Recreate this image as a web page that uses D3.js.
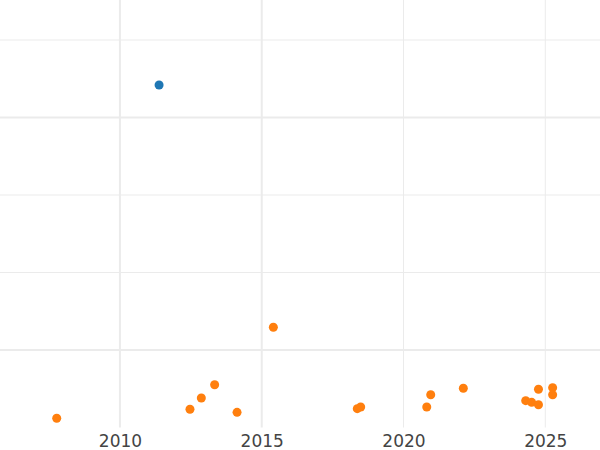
<!DOCTYPE html>
<html>
<head>
<style>
  body { margin: 0; background: #fff; }
  .tick text { font: 17px "DejaVu Sans", sans-serif; fill: #444; }
</style>
<script src="https://d3js.org/d3.v7.min.js"></script>
</head>
<body>
<svg width="600" height="450"></svg>
<script>
// data
var highYear = [2011.38];
var highValue = [4.42];

var lowYear = [2007.77, 2012.47, 2012.87, 2013.34, 2014.13, 2015.41, 2018.37, 2018.49,
               2020.82, 2020.96, 2022.11, 2024.31, 2024.52, 2024.76, 2024.76, 2025.26, 2025.26];
var lowValue = [0.119, 0.235, 0.381, 0.552, 0.196, 1.293, 0.243, 0.265,
                0.265, 0.423, 0.506, 0.346, 0.325, 0.294, 0.493, 0.514, 0.423];

var xTicks = [2010, 2015, 2020, 2025];
var xTicksBold = [2010, 2015];
var yTicks = [1, 2, 3, 4, 5];
var yTicksBold = [1, 4];

var svg = d3.select("svg"),
    width = +svg.attr("width"),
    plotBottom = 427.5;

var x = d3.scaleLinear()
    .domain([2005.77, 2026.93])
    .range([0, width]);

var y = d3.scaleLinear()
    .domain([0, 5])
    .range([plotBottom, 40]);

// grid
svg.append("g").selectAll("line")
    .data(yTicks).enter().append("line")
    .attr("x1", 0).attr("x2", width)
    .attr("y1", function(d) { return y(d); })
    .attr("y2", function(d) { return y(d); })
    .attr("stroke", "#ebebeb")
    .attr("stroke-width", function(d) { return yTicksBold.indexOf(d) >= 0 ? 2 : 1; });

svg.append("g").selectAll("line")
    .data(xTicks).enter().append("line")
    .attr("x1", function(d) { return x(d); })
    .attr("x2", function(d) { return x(d); })
    .attr("y1", 0).attr("y2", plotBottom)
    .attr("stroke", "#ebebeb")
    .attr("stroke-width", function(d) { return xTicksBold.indexOf(d) >= 0 ? 2 : 1; });

// x axis labels
var xAxis = svg.append("g")
    .attr("transform", "translate(0," + plotBottom + ")")
    .call(d3.axisBottom(x).tickValues(xTicks).tickFormat(d3.format("d")).tickSize(0).tickPadding(7));
xAxis.select(".domain").remove();

// points
svg.append("g").selectAll("circle")
    .data(d3.range(lowYear.length)).enter().append("circle")
    .attr("cx", function(i) { return x(lowYear[i]); })
    .attr("cy", function(i) { return y(lowValue[i]); })
    .attr("r", 4.5)
    .attr("fill", "#ff7f0e");

svg.append("g").selectAll("circle")
    .data(d3.range(highYear.length)).enter().append("circle")
    .attr("cx", function(i) { return x(highYear[i]); })
    .attr("cy", function(i) { return y(highValue[i]); })
    .attr("r", 4.5)
    .attr("fill", "#1f77b4");
</script>
</body>
</html>
